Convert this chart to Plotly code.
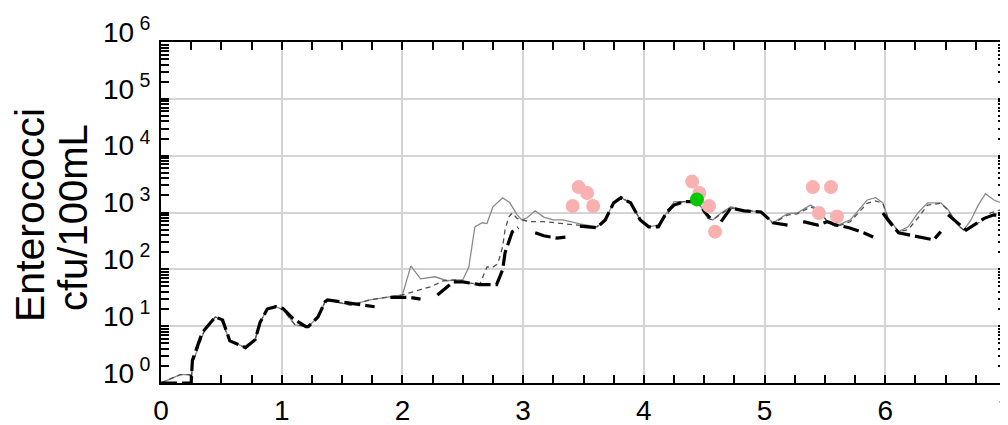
import plotly.graph_objects as go

# ---- data ----
days_model = [0, 0.16, 0.22, 0.24, 0.25, 0.26, 0.36, 0.45, 0.50, 0.57, 0.70, 0.78, 0.82, 0.88, 0.95,
              1.01, 1.06, 1.11, 1.22, 1.30, 1.36, 1.38, 1.57, 1.73, 1.84, 2.0, 2.07, 2.15, 2.27,
              2.37, 2.44, 2.50, 2.55, 2.60, 2.66, 2.70, 2.75, 2.83, 2.89, 2.95, 2.99, 3.03, 3.10,
              3.17, 3.25, 3.33, 3.47, 3.61, 3.67, 3.75, 3.81, 3.89, 3.97, 4.04, 4.12, 4.19, 4.25,
              4.33, 4.41, 4.44, 4.53, 4.57, 4.64, 4.72, 4.80, 4.97, 5.07, 5.19, 5.27, 5.38, 5.45,
              5.52, 5.59, 5.71, 5.85, 5.92, 5.98, 6.02, 6.11, 6.19, 6.27, 6.35, 6.46, 6.52, 6.60,
              6.65, 6.71, 6.77, 6.83, 6.90, 6.96, 7.0]
model_a = [1.0, 1.4, 1.4, 1.4, 1.0, 2.2, 8.5, 14.5, 13, 5.5, 4.2, 5.8, 11.5, 20, 22,
           19.5, 14.5, 10.5, 9.8, 14.5, 27, 29, 23.4, 29, 31.6, 35.5, 115, 68, 74,
           63, 65, 65, 110, 560, 660, 640, 1260, 1820, 1480, 910, 740, 800, 1070,
           830, 740, 740, 630, 560, 690, 1480, 1820, 1480, 740, 560, 600, 1020, 1550,
           1550, 1550, 1660, 790, 740, 980, 1260, 1120, 1020, 660, 955, 980, 1350, 1120,
           690, 575, 740, 1660, 1820, 1480, 830, 460, 560, 980, 1480, 1480, 1120, 600,
           490, 740, 1350, 2140, 1660, 1480, 1480]

days_model_b = [0, 0.16, 0.22, 0.24, 0.25, 0.26, 0.36, 0.45, 0.50, 0.57, 0.70, 0.78, 0.82, 0.88, 0.95,
                1.01, 1.06, 1.11, 1.22, 1.30, 1.36, 1.38, 1.57, 1.73, 1.84, 2.0, 2.15, 2.23, 2.34,
                2.44, 2.54, 2.64, 2.70, 2.75, 2.79, 2.83, 2.85, 2.88, 2.91, 2.95, 2.99, 3.06, 3.17,
                3.25, 3.45, 3.61, 3.67, 3.75, 3.81, 3.89, 3.97, 4.04, 4.12, 4.19, 4.25, 4.33, 4.41,
                4.44, 4.53, 4.57, 4.64, 4.72, 4.80, 4.97, 5.07, 5.19, 5.27, 5.38, 5.45, 5.52, 5.59,
                5.71, 5.85, 5.92, 5.98, 6.02, 6.11, 6.19, 6.27, 6.35, 6.46, 6.52, 6.60, 6.65, 6.68,
                6.79, 6.87, 6.96, 7.0]
model_b = [1.0, 1.4, 1.4, 1.4, 1.0, 2.2, 8.5, 14.5, 13, 5.5, 4.2, 5.8, 11.5, 20, 22,
           19.5, 14.5, 10.5, 9.8, 14.5, 27, 29, 23.4, 29, 31.6, 35.5, 44, 49, 63,
           65, 58, 54, 110, 110, 125, 250, 490, 830, 980, 790, 740, 690, 690,
           660, 600, 560, 690, 1480, 1820, 1480, 740, 560, 600, 900, 1400, 1550, 1550,
           1600, 790, 740, 950, 1200, 1120, 1020, 640, 900, 950, 1250, 1100, 690, 560,
           690, 1450, 1600, 1450, 830, 460, 500, 800, 1350, 1450, 1100, 600, 490, 520,
           690, 980, 1120, 1200]

days_model_c = [0, 0.22, 0.25, 0.26, 0.27, 0.34, 0.45, 0.51, 0.57, 0.70, 0.78, 0.82, 0.88, 0.95,
                1.01, 1.09, 1.20, 1.22, 1.30, 1.36, 1.38, 1.57, 1.77, None,
                1.90, 2.06, 2.15, None,
                2.29, 2.37, 2.42, 2.50, 2.64, 2.78, 2.83, 2.85, 2.91, 2.96, None,
                3.10, 3.17, 3.28, 3.35, None,
                3.47, 3.61, 3.68, 3.75, 3.81, 3.89, 3.97, 4.04, 4.12, 4.19, 4.25, 4.33, 4.41,
                4.44, 4.51, 4.55, None,
                4.64, 4.72, 4.83, 4.97, 5.07, 5.19, None,
                5.32, 5.44, 5.52, 5.60, 5.70, 5.82, 5.90, None,
                5.98, 6.04, 6.11, 6.27, 6.40, 6.46, None,
                6.52, 6.60, 6.67, 6.82, 6.90, 7.0]
model_c = [1.0, 1.0, 1.0, 2.5, 2.9, 7.6, 14.5, 12.9, 5.5, 4.2, 5.8, 11.5, 20, 22,
           20.5, 13.8, 9.8, 9.8, 14.5, 27, 29, 25.7, 22, None,
           32, 32, 30, None,
           35.5, 49, 60, 60, 54, 54, 98, 195, 460, 540, None,
           440, 390, 355, 370, None,
           575, 540, 740, 1480, 1820, 1480, 740, 560, 560, 1020, 1350, 1550, 1550,
           1600, 980, 800, None,
           690, 1200, 1070, 1020, 660, 600, None,
           690, 600, 690, 600, 540, 440, 370, None,
           980, 660, 440, 370, 330, 460, None,
           910, 660, 490, 790, 910, 870]

obs_days = [3.41, 3.46, 3.53, 3.58, 4.40, 4.46, 4.54, 4.59, 5.40, 5.45, 5.55, 5.60]
obs_values = [1300, 2800, 2200, 1300, 3500, 2200, 1300, 460, 2800, 980, 2800, 850]

highlight_day = [4.44]
highlight_value = [1700]

y_tickvals = [1, 10, 100, 1000, 10000, 100000, 1000000]
y_ticktext = ["10<sup> 0</sup>", "10<sup> 1</sup>", "10<sup> 2</sup>", "10<sup> 3</sup>",
              "10<sup> 4</sup>", "10<sup> 5</sup>", "10<sup> 6</sup>"]
x_tickvals = [0, 1, 2, 3, 4, 5, 6, 7]

FONT = "Liberation Sans, Arial, Helvetica, sans-serif"

# page body has an 8px default margin; the figure is sized so it fills the window exactly
FIG_W, FIG_H = 1000, 417
M_L, M_R, M_T, M_B = 153, 2, 34, 42

fig = go.Figure()
fig.add_trace(go.Scatter(x=days_model, y=model_a, mode="lines",
                         line=dict(color="#8a8a8a", width=1.3), showlegend=False))
fig.add_trace(go.Scatter(x=days_model_b, y=model_b, mode="lines",
                         line=dict(color="#505050", width=1.3, dash="5px,4px"), showlegend=False))
fig.add_trace(go.Scatter(x=days_model_c, y=model_c, mode="lines", connectgaps=False,
                         line=dict(color="#000000", width=3.2, dash="16px,5px"), showlegend=False))
fig.add_trace(go.Scatter(x=obs_days, y=obs_values, mode="markers",
                         marker=dict(color="#f9b0b0", size=14, line=dict(width=0)), showlegend=False))
fig.add_trace(go.Scatter(x=highlight_day, y=highlight_value, mode="markers",
                         marker=dict(color="#00c800", size=14, line=dict(width=0)), showlegend=False))

axis_common = dict(showline=True, linecolor="black", linewidth=2, mirror="ticks",
                   ticks="inside", ticklen=8, tickwidth=2, tickcolor="black",
                   showgrid=True, gridcolor="#d4d4d4", gridwidth=1.5, zeroline=False,
                   automargin=False)

fig.update_xaxes(range=[0, 7], tickvals=x_tickvals, ticktext=[str(v) for v in x_tickvals],
                 tickfont=dict(family=FONT, size=28, color="black"),
                 ticklabelstandoff=1, ticklabeloverflow="allow",
                 minor=dict(dtick=0.25, ticks="inside", ticklen=8, tickwidth=2,
                            tickcolor="black", showgrid=False),
                 **axis_common)
fig.update_yaxes(type="log", range=[0, 6], tickvals=y_tickvals, ticktext=y_ticktext,
                 tickfont=dict(family=FONT, size=28, color="black"),
                 ticklabelshift=-10, ticklabelstandoff=3,
                 minor=dict(dtick="D1", ticks="inside", ticklen=8, tickwidth=1.5,
                            tickcolor="black", showgrid=False),
                 **axis_common)

plot_w = FIG_W - M_L - M_R
plot_h = FIG_H - M_T - M_B
fig.add_annotation(text="Enterococci", textangle=-90, showarrow=False,
                   xref="paper", yref="paper", x=(22 - M_L) / plot_w,
                   y=(FIG_H - M_B - 207) / plot_h,
                   xanchor="center", yanchor="middle",
                   font=dict(family=FONT, size=41, color="black"))
fig.add_annotation(text="cfu/100mL", textangle=-90, showarrow=False,
                   xref="paper", yref="paper", x=(65 - M_L) / plot_w,
                   y=(FIG_H - M_B - 210) / plot_h,
                   xanchor="center", yanchor="middle",
                   font=dict(family=FONT, size=40, color="black"))

fig.update_layout(width=FIG_W, height=FIG_H, margin=dict(l=M_L, r=M_R, t=M_T, b=M_B),
                  plot_bgcolor="white", paper_bgcolor="white", showlegend=False)

fig.write_html("out.html")
